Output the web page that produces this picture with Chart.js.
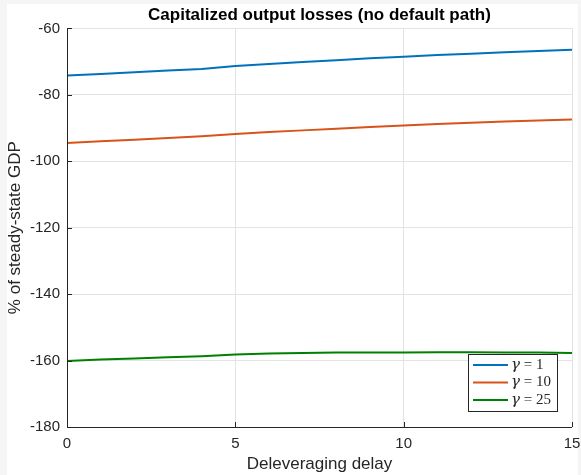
<!DOCTYPE html>
<html lang="en">
<head>
    <meta charset="UTF-8">
    <title>Capitalized output losses</title>
    <script src="https://cdn.jsdelivr.net/npm/chart.js"></script>
    <style>
    body { margin: 0; background: #f5f5f5; }
    canvas { display: block; }
    </style>
</head>
<body>
    <canvas id="lossChart" width="581" height="475" style="width: 581px; height: 475px;"></canvas>

    <script>
    // deleveraging delay (x) and losses in % of steady-state GDP
    const delays = [0, 1, 2, 3, 4, 5, 6, 7, 8, 9, 10, 11, 12, 13, 14, 15];
    const gamma1 = [-74.2, -73.7, -73.2, -72.7, -72.2, -71.3, -70.7, -70.1, -69.6, -69.0, -68.5, -68.0, -67.6, -67.2, -66.8, -66.4];
    const gamma10 = [-94.5, -94.0, -93.5, -93.0, -92.5, -91.8, -91.2, -90.7, -90.2, -89.7, -89.2, -88.8, -88.4, -88.0, -87.7, -87.4];
    const gamma25 = [-160.1, -159.7, -159.4, -159.0, -158.7, -158.2, -157.9, -157.7, -157.6, -157.6, -157.6, -157.5, -157.5, -157.6, -157.6, -157.7];
    const seriesNames = ["1", "10", "25"];
    const xTicks = [0, 5, 10, 15];
    const yTicks = [-180, -160, -140, -120, -100, -80, -60];

    const colors = ['#0072BD', '#D95319', '#008000'];
    const toPoints = vals => delays.map((d, i) => ({ x: d, y: vals[i] }));

    // white figure area on grey window + dark left/bottom axis lines
    const framePlugin = {
        id: 'frame',
        beforeDraw(chart) {
        const ctx = chart.ctx;
        ctx.save();
        ctx.fillStyle = '#f5f5f5';
        ctx.fillRect(0, 0, chart.width, chart.height);
        ctx.fillStyle = '#ffffff';
        ctx.fillRect(7, 4, 571, 471);
        ctx.restore();
        },
        afterDatasetsDraw(chart) {
        const a = chart.chartArea;
        const ctx = chart.ctx;
        ctx.save();
        ctx.strokeStyle = '#262626';
        ctx.lineWidth = 1;
        ctx.beginPath();
        ctx.moveTo(a.left + 0.5, a.top);
        ctx.lineTo(a.left + 0.5, a.bottom + 0.5);
        ctx.lineTo(a.right, a.bottom + 0.5);
        ctx.stroke();
        // small inward ticks on the axes
        const xs = chart.scales.x, ys = chart.scales.y;
        xTicks.forEach(t => {
            const px = Math.round(xs.getPixelForValue(t)) + 0.5;
            ctx.beginPath();
            ctx.moveTo(px, a.bottom);
            ctx.lineTo(px, a.bottom - 5);
            ctx.stroke();
        });
        yTicks.forEach(t => {
            const py = Math.round(ys.getPixelForValue(t)) + 0.5;
            ctx.beginPath();
            ctx.moveTo(a.left, py);
            ctx.lineTo(a.left + 5, py);
            ctx.stroke();
        });
        ctx.restore();
        },
        afterDraw(chart) {
        // legend box in the lower right corner
        const a = chart.chartArea;
        const ctx = chart.ctx;
        const w = 89, h = 57;
        const bx = a.right - 104, by = a.bottom - 73;
        ctx.save();
        ctx.fillStyle = '#ffffff';
        ctx.fillRect(bx, by, w, h);
        ctx.strokeStyle = '#262626';
        ctx.lineWidth = 1;
        ctx.strokeRect(bx + 0.5, by + 0.5, w, h);
        chart.data.datasets.forEach((ds, i) => {
            const y = by + 11 + i * 17.5;
            ctx.strokeStyle = ds.borderColor;
            ctx.lineWidth = 2;
            ctx.beginPath();
            ctx.moveTo(bx + 5, y);
            ctx.lineTo(bx + 40, y);
            ctx.stroke();
            ctx.fillStyle = '#262626';
            ctx.textBaseline = 'middle';
            ctx.font = 'italic 15px "DejaVu Serif", "Liberation Serif", serif';
            ctx.fillText('\u03b3', bx + 43, y);
            const gw = ctx.measureText('\u03b3').width;
            ctx.font = '15px "Liberation Serif", serif';
            ctx.fillText(' = ' + seriesNames[i], bx + 43 + gw, y);
        });
        ctx.restore();
        }
    };

    new Chart(document.getElementById('lossChart').getContext('2d'), {
        type: 'line',
        data: {
        datasets: [
            { label: '\u03b3 = ' + seriesNames[0], data: toPoints(gamma1), borderColor: colors[0] },
            { label: '\u03b3 = ' + seriesNames[1], data: toPoints(gamma10), borderColor: colors[1] },
            { label: '\u03b3 = ' + seriesNames[2], data: toPoints(gamma25), borderColor: colors[2] }
        ].map(ds => Object.assign(ds, { borderWidth: 2, pointRadius: 0, fill: false, tension: 0 }))
        },
        options: {
        responsive: false,
        animation: false,
        layout: { padding: 0 },
        font: { family: '"Liberation Sans", Arial, sans-serif' },
        scales: {
            x: {
            type: 'linear',
            min: 0,
            max: 15,
            afterBuildTicks: s => { s.ticks = xTicks.map(v => ({ value: v })); },
            afterFit: s => { s.height = 48; s.paddingRight = 9; s.paddingLeft = 0; },
            grid: { color: '#e3e3e3', drawTicks: false },
            border: { display: false },
            ticks: { padding: 8, color: '#262626', font: { size: 15, family: '"Liberation Sans", Arial, sans-serif' }, maxRotation: 0 },
            title: { display: true, text: 'Deleveraging delay', color: '#262626', padding: 0,
                font: { size: 17, family: '"Liberation Sans", Arial, sans-serif' } }
            },
            y: {
            min: -180,
            max: -60,
            afterBuildTicks: s => { s.ticks = yTicks.map(v => ({ value: v })); },
            afterFit: s => { s.width = 67; },
            grid: { color: '#e3e3e3', drawTicks: false },
            border: { display: false },
            ticks: { padding: 7, color: '#262626', font: { size: 15, family: '"Liberation Sans", Arial, sans-serif' } },
            title: { display: true, text: '% of steady-state GDP', color: '#262626', padding: { top: 5, bottom: 0 },
                font: { size: 17, family: '"Liberation Sans", Arial, sans-serif' } }
            }
        },
        plugins: {
            legend: { display: false },
            tooltip: { enabled: false },
            title: {
            display: true,
            fullSize: false,
            text: 'Capitalized output losses (no default path)',
            color: '#000000',
            padding: { top: 5, bottom: 3 },
            font: { size: 17, weight: 'bold', family: '"Liberation Sans", Arial, sans-serif' }
            }
        }
        },
        plugins: [framePlugin]
    });
    </script>
</body>
</html>
